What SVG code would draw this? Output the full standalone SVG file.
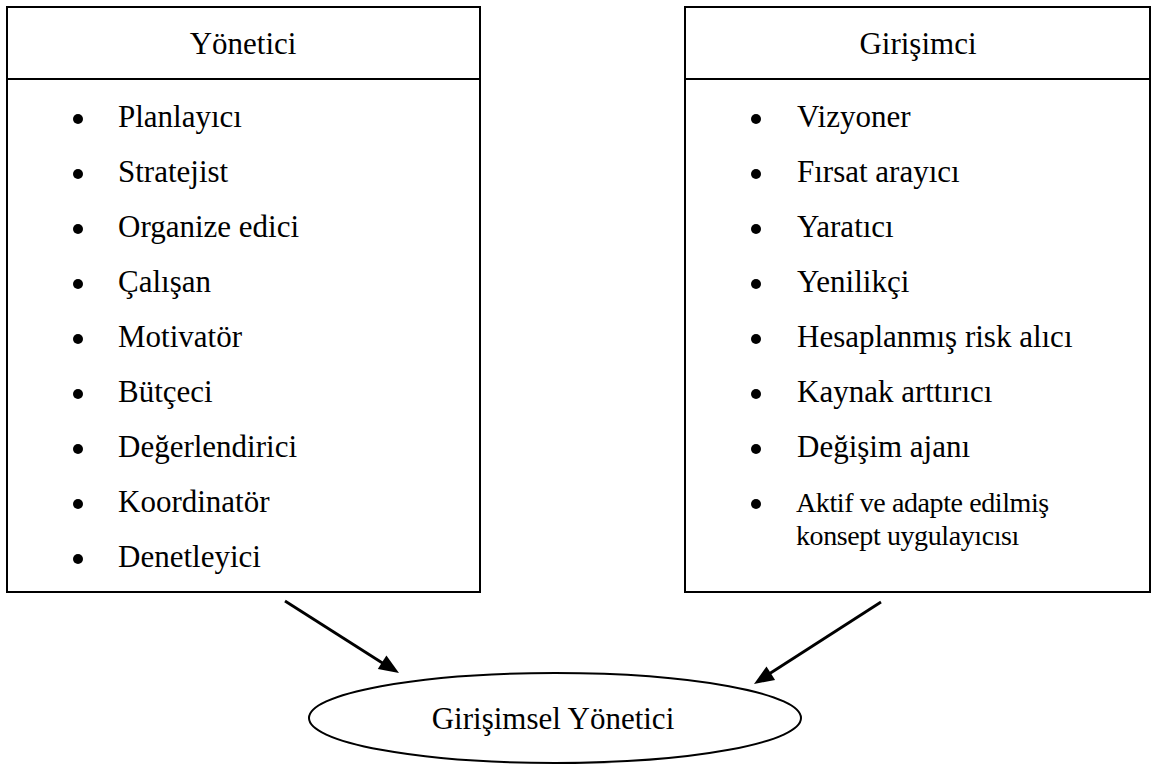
<svg xmlns="http://www.w3.org/2000/svg" width="1155" height="765" viewBox="0 0 1155 765">
  <defs>
    <style>
      .box { fill: #fff; stroke: #000; stroke-width: 2; }
      .rule { stroke: #000; stroke-width: 2; }
      .t { font-family: "Liberation Serif", "Times New Roman", serif; font-size: 31px; fill: #000; }
      .tight { font-size: 28px; letter-spacing: -0.4px; }
      .h { text-anchor: middle; }
      .dot { fill: #000; }
      .edge { stroke: #000; stroke-width: 2.8; fill: none; }
      .head { fill: #000; }
    </style>
  </defs>
  <rect width="1155" height="765" fill="#fff"/>

  <!-- Manager column -->
  <g id="yonetici">
    <rect class="box" x="7" y="7" width="473" height="585"/>
    <line class="rule" x1="7" y1="79" x2="480" y2="79"/>
    <text class="t h" x="243" y="54">Yönetici</text>
    <g>
      <circle class="dot" cx="78" cy="119" r="5"/><text class="t" x="118" y="127">Planlayıcı</text>
      <circle class="dot" cx="78" cy="174" r="5"/><text class="t" x="118" y="182">Stratejist</text>
      <circle class="dot" cx="78" cy="229" r="5"/><text class="t" x="118" y="237">Organize edici</text>
      <circle class="dot" cx="78" cy="284" r="5"/><text class="t" x="118" y="292">Çalışan</text>
      <circle class="dot" cx="78" cy="339" r="5"/><text class="t" x="118" y="347">Motivatör</text>
      <circle class="dot" cx="78" cy="394" r="5"/><text class="t" x="118" y="402">Bütçeci</text>
      <circle class="dot" cx="78" cy="449" r="5"/><text class="t" x="118" y="457">Değerlendirici</text>
      <circle class="dot" cx="78" cy="504" r="5"/><text class="t" x="118" y="512">Koordinatör</text>
      <circle class="dot" cx="78" cy="559" r="5"/><text class="t" x="118" y="567">Denetleyici</text>
    </g>
  </g>

  <!-- Entrepreneur column -->
  <g id="girisimci">
    <rect class="box" x="685" y="7" width="465" height="585"/>
    <line class="rule" x1="685" y1="79" x2="1150" y2="79"/>
    <text class="t h" x="918" y="54">Girişimci</text>
    <g>
      <circle class="dot" cx="756" cy="119" r="5"/><text class="t" x="797" y="127">Vizyoner</text>
      <circle class="dot" cx="756" cy="174" r="5"/><text class="t" x="797" y="182">Fırsat arayıcı</text>
      <circle class="dot" cx="756" cy="229" r="5"/><text class="t" x="797" y="237">Yaratıcı</text>
      <circle class="dot" cx="756" cy="284" r="5"/><text class="t" x="797" y="292">Yenilikçi</text>
      <circle class="dot" cx="756" cy="339" r="5"/><text class="t" x="797" y="347">Hesaplanmış risk alıcı</text>
      <circle class="dot" cx="756" cy="394" r="5"/><text class="t" x="797" y="402">Kaynak arttırıcı</text>
      <circle class="dot" cx="756" cy="449" r="5"/><text class="t" x="797" y="457">Değişim ajanı</text>
      <circle class="dot" cx="756" cy="504" r="5"/><text class="t tight" x="796" y="512">Aktif ve adapte edilmiş</text>
      <text class="t tight" x="796" y="545">konsept uygulayıcısı</text>
    </g>
  </g>

  <!-- Combined role -->
  <g id="girisimsel-yonetici">
    <ellipse cx="555" cy="718" rx="246" ry="45" fill="#fff" stroke="#000" stroke-width="2"/>
    <text class="t h" x="553" y="729">Girişimsel Yönetici</text>
  </g>

  <g id="connectors">
    <path class="edge" d="M285,601 L384,664"/>
    <polygon class="head" points="399,673 377.8,669.1 386.4,655.5"/>
    <path class="edge" d="M881,602 L769,674"/>
    <polygon class="head" points="754,684 766.5,666.5 775.1,679.9"/>
  </g>
</svg>
